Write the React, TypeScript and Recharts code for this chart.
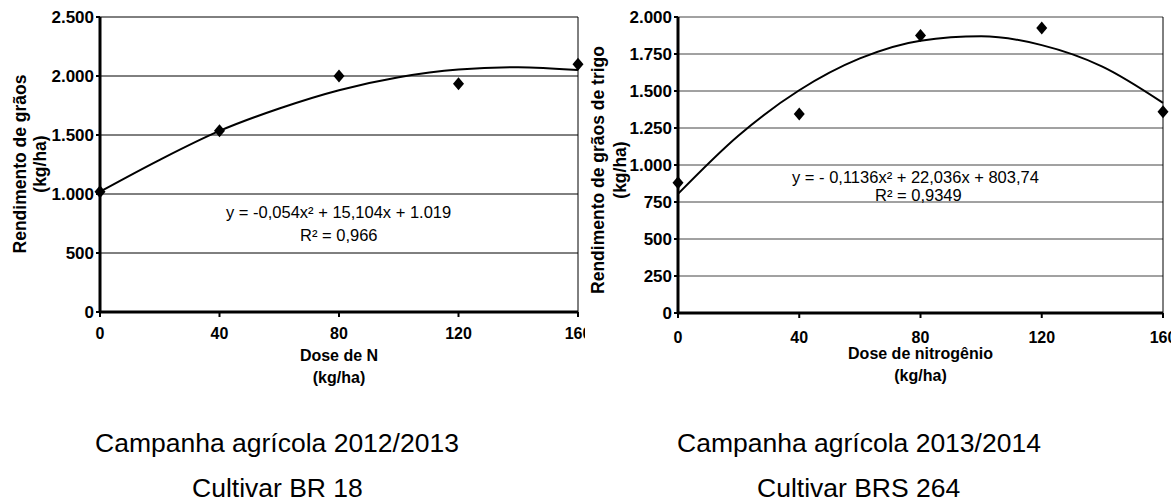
import {
  ComposedChart, Line, Scatter, XAxis, YAxis, CartesianGrid, ReferenceLine, Label,
} from 'recharts';

// doses de N (kg/ha)
const DOSES = [0, 40, 80, 120, 160];
const FIT_X = [0, 20, 40, 60, 80, 100, 120, 140, 160];

// Campanha 2012/2013 - BR 18
const REND_2013 = [1020, 1535, 2000, 1935, 2100];
const FIT_2013 = [1020, 1290, 1535, 1725, 1880, 1990, 2055, 2075, 2050];
const TICKS_Y_2013 = [0, 500, 1000, 1500, 2000, 2500];

// Campanha 2013/2014 - BRS 264
const REND_2014 = [880, 1345, 1875, 1925, 1360];
const FIT_2014 = [805, 1200, 1505, 1720, 1840, 1870, 1810, 1665, 1420];
const TICKS_Y_2014 = [0, 250, 500, 750, 1000, 1250, 1500, 1750, 2000];

const FONT = '"Liberation Sans", Arial, sans-serif';

const fmtMil = (v: number) =>
  v >= 1000 ? `${Math.floor(v / 1000)}.${String(v % 1000).padStart(3, '0')}` : String(v);

// losango preto, como no Excel
const Losango = ({ cx, cy }: any) => (
  <path d={`M${cx},${cy - 6.5}L${cx + 5.5},${cy}L${cx},${cy + 6.5}L${cx - 5.5},${cy}Z`} fill="#000" />
);

const YLabel = ({ viewBox, lines, xs, cy }: any) => {
  const y = cy ?? viewBox.y + viewBox.height / 2;
  return (
    <g>
      {lines.map((t: string, i: number) => (
        <text
          key={t}
          x={xs[i]}
          y={y}
          transform={`rotate(-90 ${xs[i]} ${y})`}
          textAnchor="middle"
          dominantBaseline="central"
          fontFamily={FONT}
          fontWeight="bold"
          fontSize={17.5}
          fill="#000"
        >
          {t}
        </text>
      ))}
    </g>
  );
};

const XLabel = ({ viewBox, lines, dys }: any) => {
  const cx = viewBox.x + viewBox.width / 2;
  return (
    <g>
      {lines.map((t: string, i: number) => (
        <text
          key={t}
          x={cx}
          y={viewBox.y + dys[i]}
          textAnchor="middle"
          dominantBaseline="central"
          fontFamily={FONT}
          fontWeight="bold"
          fontSize={16}
          fill="#000"
        >
          {t}
        </text>
      ))}
    </g>
  );
};

interface PainelProps {
  width: number;
  yTicks: number[];
  yMax: number;
  rend: number[];
  fit: number[];
  yAxisWidth: number;
  right: number;
  bottom: number;
  gridColor: string;
  tickMargin: number;
  yLines: string[];
  yLabelXs: number[];
  yLabelCy: number;
  xLines: string[];
  xDys: number[];
}

const Painel = (p: PainelProps) => {
  const curva = FIT_X.map((x, i) => ({ x, fit: p.fit[i] }));
  const pontos = DOSES.map((x, i) => ({ x, y: p.rend[i] }));
  return (
    <ComposedChart
      width={p.width}
      height={400}
      data={curva}
      margin={{ top: 17, right: p.right, bottom: p.bottom, left: 0 }}
    >
      <CartesianGrid horizontal vertical={false} stroke={p.gridColor} strokeWidth={1} />
      <XAxis
        type="number"
        dataKey="x"
        domain={[0, 160]}
        ticks={DOSES}
        height={60}
        axisLine={{ stroke: '#000', strokeWidth: 3 }}
        tickLine={{ stroke: '#000', strokeWidth: 2 }}
        tickSize={5}
        tickMargin={p.tickMargin}
        tick={{ fill: '#000', fontFamily: FONT, fontWeight: 'bold', fontSize: 16 }}
        interval={0}
      >
        <Label content={<XLabel lines={p.xLines} dys={p.xDys} />} />
      </XAxis>
      <YAxis
        type="number"
        domain={[0, p.yMax]}
        ticks={p.yTicks}
        width={p.yAxisWidth}
        axisLine={{ stroke: '#000', strokeWidth: 3 }}
        tickLine={{ stroke: '#000', strokeWidth: 2 }}
        tickSize={4}
        tickMargin={2}
        tickFormatter={fmtMil}
        tick={{ fill: '#000', fontFamily: FONT, fontWeight: 'bold', fontSize: 17 }}
        interval={0}
      >
        <Label content={<YLabel lines={p.yLines} xs={p.yLabelXs} cy={p.yLabelCy} />} />
      </YAxis>
      <ReferenceLine x={160} stroke="#000" strokeWidth={1} />
      <Line
        type="monotone"
        dataKey="fit"
        stroke="#000"
        strokeWidth={2}
        dot={false}
        activeDot={false}
        isAnimationActive={false}
      />
      <Scatter
        data={pontos}
        dataKey="y"
        fill="#000"
        shape={<Losango />}
        legendType="none"
        isAnimationActive={false}
      />
    </ComposedChart>
  );
};

const abs = (left: number, top: number, size: number, extra: any = {}) => ({
  position: 'absolute' as const,
  left,
  top,
  fontFamily: FONT,
  fontSize: size,
  color: '#000',
  whiteSpace: 'nowrap' as const,
  lineHeight: 1,
  ...extra,
});

const App = () => (
  <div style={{ position: 'absolute', left: 0, top: 0, width: 1171, height: 503, background: '#fff', overflow: 'hidden' }}>
    <div style={{ position: 'absolute', left: 0, top: 0, width: 585, height: 400, overflow: 'hidden' }}>
      <Painel
        width={585}
        yTicks={TICKS_Y_2013}
        yMax={2500}
        rend={REND_2013}
        fit={FIT_2013}
        yAxisWidth={100}
        right={7}
        bottom={28}
        gridColor="#000"
        tickMargin={11}
        yLines={['Rendimento de grãos', '(kg/ha)']}
        yLabelXs={[20, 40]}
        yLabelCy={164}
        xLines={['Dose de N', '(kg/ha)']}
        xDys={[43, 65]}
      />
    </div>
    <div style={{ position: 'absolute', left: 580, top: 0, width: 591, height: 400, overflow: 'hidden' }}>
      <Painel
        width={591}
        yTicks={TICKS_Y_2014}
        yMax={2000}
        rend={REND_2014}
        fit={FIT_2014}
        yAxisWidth={98}
        right={8}
        bottom={27}
        gridColor="#444"
        tickMargin={14}
        yLines={['Rendimento de grãos de trigo', '(kg/ha)']}
        yLabelXs={[18, 40]}
        yLabelCy={170}
        xLines={['Dose de nitrogênio', '(kg/ha)']}
        xDys={[40, 62]}
      />
    </div>

    <div style={abs(226, 204, 16.5)}>y = -0,054x² + 15,104x + 1.019</div>
    <div style={abs(300, 227, 16.5)}>R² = 0,966</div>
    <div style={abs(792, 169, 16.5)}>y = - 0,1136x² + 22,036x + 803,74</div>
    <div style={abs(875, 187, 16.5)}>R² = 0,9349</div>

    <div style={abs(95, 430, 26.5)}>Campanha agrícola 2012/2013</div>
    <div style={abs(192, 475, 26.5)}>Cultivar BR 18</div>
    <div style={abs(677, 430, 26.5)}>Campanha agrícola 2013/2014</div>
    <div style={abs(757, 475, 26.5)}>Cultivar BRS 264</div>
  </div>
);

export default App;
